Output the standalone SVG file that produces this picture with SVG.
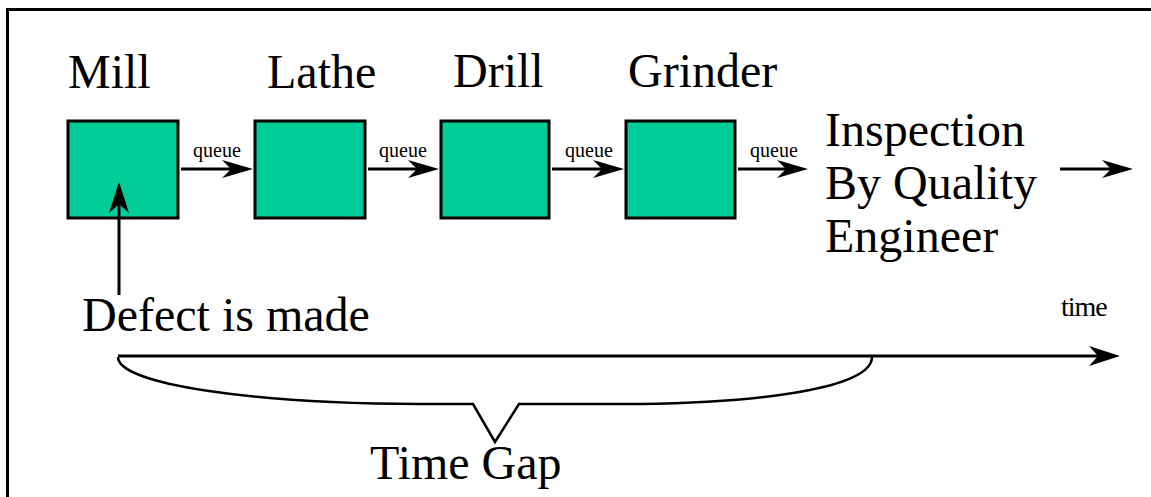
<svg xmlns="http://www.w3.org/2000/svg" width="1151" height="497" viewBox="0 0 1151 497">
<style>
.box{fill:#00CC99;stroke:#000;stroke-width:3}
text{font-family:'Liberation Serif',Tinos,'Times New Roman',Times,serif;fill:#000}
.big{font-size:48px}
.q{font-size:20px}
.sm{font-size:28px;letter-spacing:-1px}
.ln{stroke:#000;stroke-width:3;fill:none}
</style>
<defs>
<marker id="ah" viewBox="0 0 31 18" refX="9" refY="9" markerWidth="31" markerHeight="18" orient="auto" markerUnits="userSpaceOnUse">
<path d="M31,9 L0,0 L9,9 L0,18 Z" fill="#000"/>
</marker>
<marker id="ah2" viewBox="0 0 31 20" refX="9" refY="10" markerWidth="31" markerHeight="20" orient="auto" markerUnits="userSpaceOnUse">
<path d="M31,10 L0,0 L9,10 L0,20 Z" fill="#000"/>
</marker>
</defs>
<rect x="0" y="0" width="1151" height="497" fill="#fff"/>
<path d="M7.5,497 V9.5 H1151" fill="none" stroke="#000" stroke-width="3"/>
<g id="mill"><rect class="box" x="68" y="121" width="110" height="97"/><text class="big" x="68" y="88">Mill</text></g>
<g id="lathe"><rect class="box" x="255" y="121" width="110" height="97"/><text class="big" x="267" y="88">Lathe</text></g>
<g id="drill"><rect class="box" x="441" y="121" width="108" height="97"/><text class="big" x="453" y="87">Drill</text></g>
<g id="grinder"><rect class="box" x="626" y="121" width="109" height="97"/><text class="big" x="628" y="87">Grinder</text></g>
<g id="inspection"><text class="big" x="825"><tspan x="825" y="146">Inspection</tspan><tspan x="825" y="199">By Quality</tspan><tspan x="825" y="252">Engineer</tspan></text></g>
<g id="defect"><text class="big" x="82" y="331">Defect is made</text></g>
<g id="timegap"><text class="big" x="370" y="479">Time Gap</text></g>
<g id="timelabel"><text class="sm" x="1061" y="316">time</text></g>
<g id="connectors">
<line class="ln" x1="181" y1="169" x2="231" y2="169" marker-end="url(#ah)"/>
<line class="ln" x1="368" y1="169" x2="417" y2="169" marker-end="url(#ah)"/>
<line class="ln" x1="552" y1="169" x2="602" y2="169" marker-end="url(#ah)"/>
<line class="ln" x1="738" y1="169" x2="786" y2="169" marker-end="url(#ah)"/>
<line class="ln" x1="1060" y1="169" x2="1111" y2="169" marker-end="url(#ah)"/>
<line class="ln" x1="119" y1="295" x2="119" y2="204" marker-end="url(#ah2)"/>
<line class="ln" x1="118" y1="356" x2="1098" y2="356" marker-end="url(#ah2)"/>
<path d="M118,357 C118,385 260,404 420,404 L473,404 L495,442 L519,404 L640,404 C780,402 872,385 872,357" fill="none" stroke="#000" stroke-width="2.5"/>
<text class="q" x="193" y="157">queue</text>
<text class="q" x="379" y="157">queue</text>
<text class="q" x="565" y="157">queue</text>
<text class="q" x="750" y="157">queue</text>
</g>
</svg>
